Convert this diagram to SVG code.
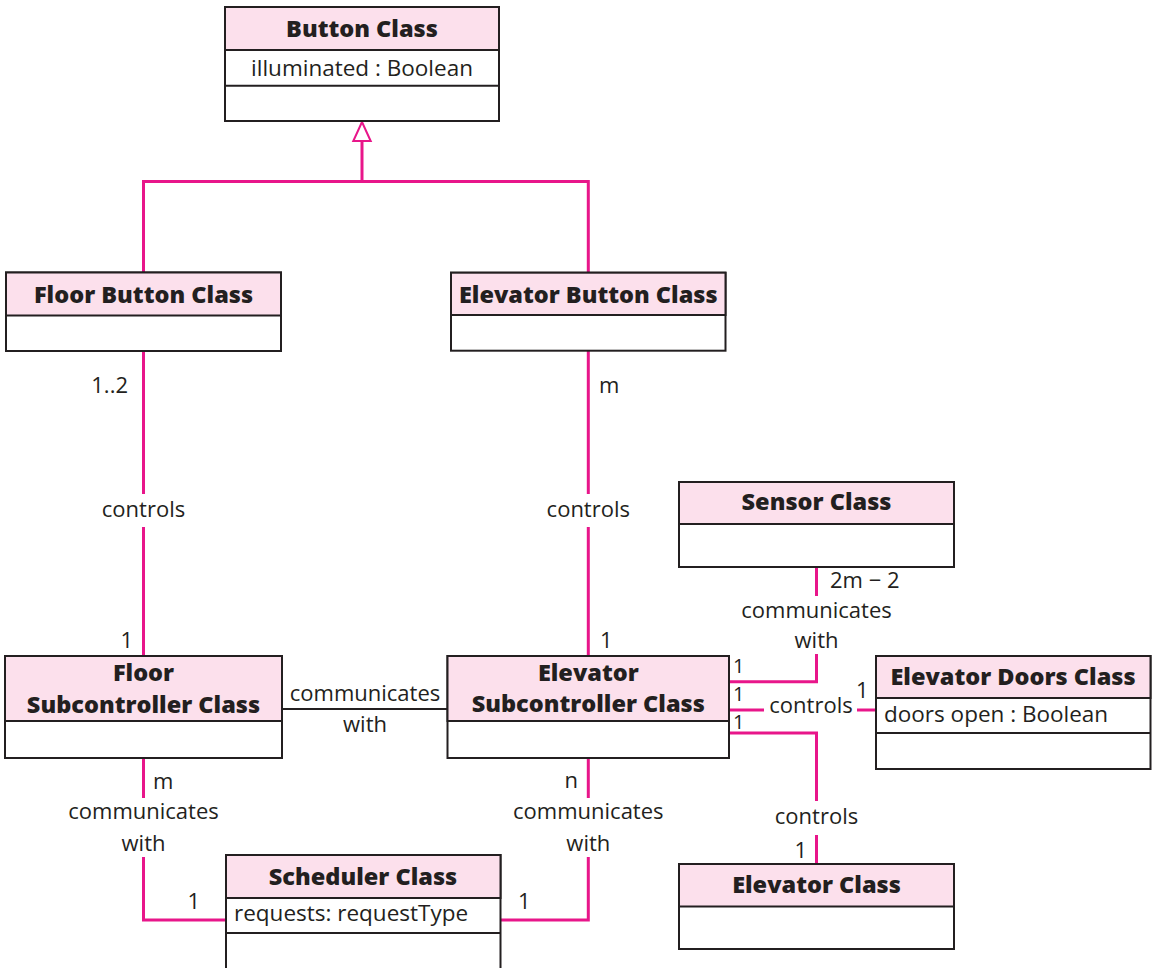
<svg xmlns="http://www.w3.org/2000/svg" width="1154" height="968" viewBox="0 0 1154 968">
<style>
.box{fill:#ffffff;stroke:#231f20;stroke-width:2}
.hdr{fill:#fce0ec;stroke:#231f20;stroke-width:2}
.sep{stroke:#231f20;stroke-width:2}
.t{font-family:"Open Sans","Noto Sans",sans-serif;font-weight:800;font-size:23.5px;fill:#231f20;text-anchor:middle}
.a{font-family:"Open Sans","Noto Sans",sans-serif;font-size:22.5px;fill:#231f20}
.lbl{font-family:"Open Sans","Noto Sans",sans-serif;font-size:22px;fill:#231f20}
.sm{font-size:20px}
.m{text-anchor:middle}
.e{text-anchor:end}
.pk{fill:none;stroke:#e8168a;stroke-width:3}
.gy{fill:none;stroke:#231f20;stroke-width:2}
</style>
<rect width="1154" height="968" fill="#ffffff"/>
<g id="connectors">
  <polygon points="362,122 353.3,141 370.7,141" fill="#ffffff" stroke="#e8168a" stroke-width="2"/>
  <polyline class="pk" points="362,141 362,181.5"/>
  <polyline class="pk" points="143.5,272.5 143.5,181.5 588.3,181.5 588.3,272.7"/>
  <line class="pk" x1="143.5" y1="351" x2="143.5" y2="494"/>
  <line class="pk" x1="143.5" y1="527" x2="143.5" y2="656"/>
  <line class="pk" x1="588.3" y1="351" x2="588.3" y2="494"/>
  <line class="pk" x1="588.3" y1="527" x2="588.3" y2="656"/>
  <line class="gy" x1="282" y1="709" x2="447.5" y2="709"/>
  <line class="pk" x1="143.5" y1="758" x2="143.5" y2="798"/>
  <polyline class="pk" points="143.5,857 143.5,920 226,920"/>
  <line class="pk" x1="588.3" y1="758" x2="588.3" y2="798"/>
  <polyline class="pk" points="588.3,857 588.3,920 500.5,920"/>
  <line class="pk" x1="816.5" y1="567" x2="816.5" y2="596"/>
  <polyline class="pk" points="816.5,654 816.5,681.7 729,681.7"/>
  <line class="pk" x1="729" y1="710" x2="764" y2="710"/>
  <line class="pk" x1="857" y1="710" x2="876" y2="710"/>
  <polyline class="pk" points="729,733 816.5,733 816.5,801"/>
  <line class="pk" x1="816.5" y1="835" x2="816.5" y2="864"/>
  <g class="lbl">
    <text class="e" x="128" y="393">1..2</text>
    <text x="599" y="393">m</text>
    <text class="m" x="143.5" y="517">controls</text>
    <text class="m" x="588.3" y="517">controls</text>
    <text class="e" x="133" y="648">1</text>
    <text x="600" y="648">1</text>
    <text class="m" x="365" y="701">communicates</text>
    <text class="m" x="365" y="732">with</text>
    <text x="153" y="789">m</text>
    <text class="m" x="143.5" y="819">communicates</text>
    <text class="m" x="143.5" y="851">with</text>
    <text class="e" x="200" y="909">1</text>
    <text class="e" x="578" y="788">n</text>
    <text class="m" x="588.3" y="819">communicates</text>
    <text class="m" x="588.3" y="851">with</text>
    <text x="518" y="909">1</text>
    <text x="830" y="588">2m − 2</text>
    <text class="m" x="816.5" y="618">communicates</text>
    <text class="m" x="816.5" y="648">with</text>
    <text class="sm" x="733" y="673">1</text>
    <text class="sm" x="733" y="701">1</text>
    <text class="sm" x="733" y="729">1</text>
    <text class="m" x="811" y="713">controls</text>
    <text x="856" y="698">1</text>
    <text class="m" x="816.5" y="824">controls</text>
    <text class="e" x="807" y="858">1</text>
  </g>
</g>
<g id="button-class">
  <rect class="box" x="225" y="7" width="274" height="114"/>
  <rect class="hdr" x="225" y="7" width="274" height="43"/>
  <line class="sep" x1="225" y1="85.7" x2="499" y2="85.7"/>
  <text class="t" x="362" y="37">Button Class</text>
  <text class="a m" x="362" y="76">illuminated : Boolean</text>
</g>
<g id="floor-button-class">
  <rect class="box" x="6" y="272.5" width="275" height="78.5"/>
  <rect class="hdr" x="6" y="272.5" width="275" height="43"/>
  <text class="t" x="143.5" y="303">Floor Button Class</text>
</g>
<g id="elevator-button-class">
  <rect class="box" x="451" y="272.7" width="274.5" height="78"/>
  <rect class="hdr" x="451" y="272.7" width="274.5" height="42.3"/>
  <text class="t" x="588.3" y="303">Elevator Button Class</text>
</g>
<g id="sensor-class">
  <rect class="box" x="679" y="482" width="275" height="85"/>
  <rect class="hdr" x="679" y="482" width="275" height="42"/>
  <text class="t" x="816.5" y="510">Sensor Class</text>
</g>
<g id="floor-subcontroller-class">
  <rect class="box" x="5" y="656" width="277" height="102"/>
  <rect class="hdr" x="5" y="656" width="277" height="65"/>
  <text class="t" x="143.5" y="681">Floor</text>
  <text class="t" x="143.5" y="713">Subcontroller Class</text>
</g>
<g id="elevator-subcontroller-class">
  <rect class="box" x="447.5" y="656" width="281.5" height="102"/>
  <rect class="hdr" x="447.5" y="656" width="281.5" height="65"/>
  <text class="t" x="588.3" y="681">Elevator</text>
  <text class="t" x="588.3" y="712">Subcontroller Class</text>
</g>
<g id="elevator-doors-class">
  <rect class="box" x="876" y="656" width="274.5" height="113"/>
  <rect class="hdr" x="876" y="656" width="274.5" height="42"/>
  <line class="sep" x1="876" y1="733" x2="1150.5" y2="733"/>
  <text class="t" x="1013" y="685">Elevator Doors Class</text>
  <text class="a" x="884" y="722">doors open : Boolean</text>
</g>
<g id="scheduler-class">
  <rect class="box" x="226" y="855" width="274.5" height="125"/>
  <rect class="hdr" x="226" y="855" width="274.5" height="43"/>
  <line class="sep" x1="226" y1="933" x2="500.5" y2="933"/>
  <text class="t" x="363" y="885">Scheduler Class</text>
  <text class="a" x="234" y="921">requests: requestType</text>
</g>
<g id="elevator-class">
  <rect class="box" x="679" y="864" width="275" height="85"/>
  <rect class="hdr" x="679" y="864" width="275" height="42.5"/>
  <text class="t" x="816.5" y="893">Elevator Class</text>
</g>
</svg>
